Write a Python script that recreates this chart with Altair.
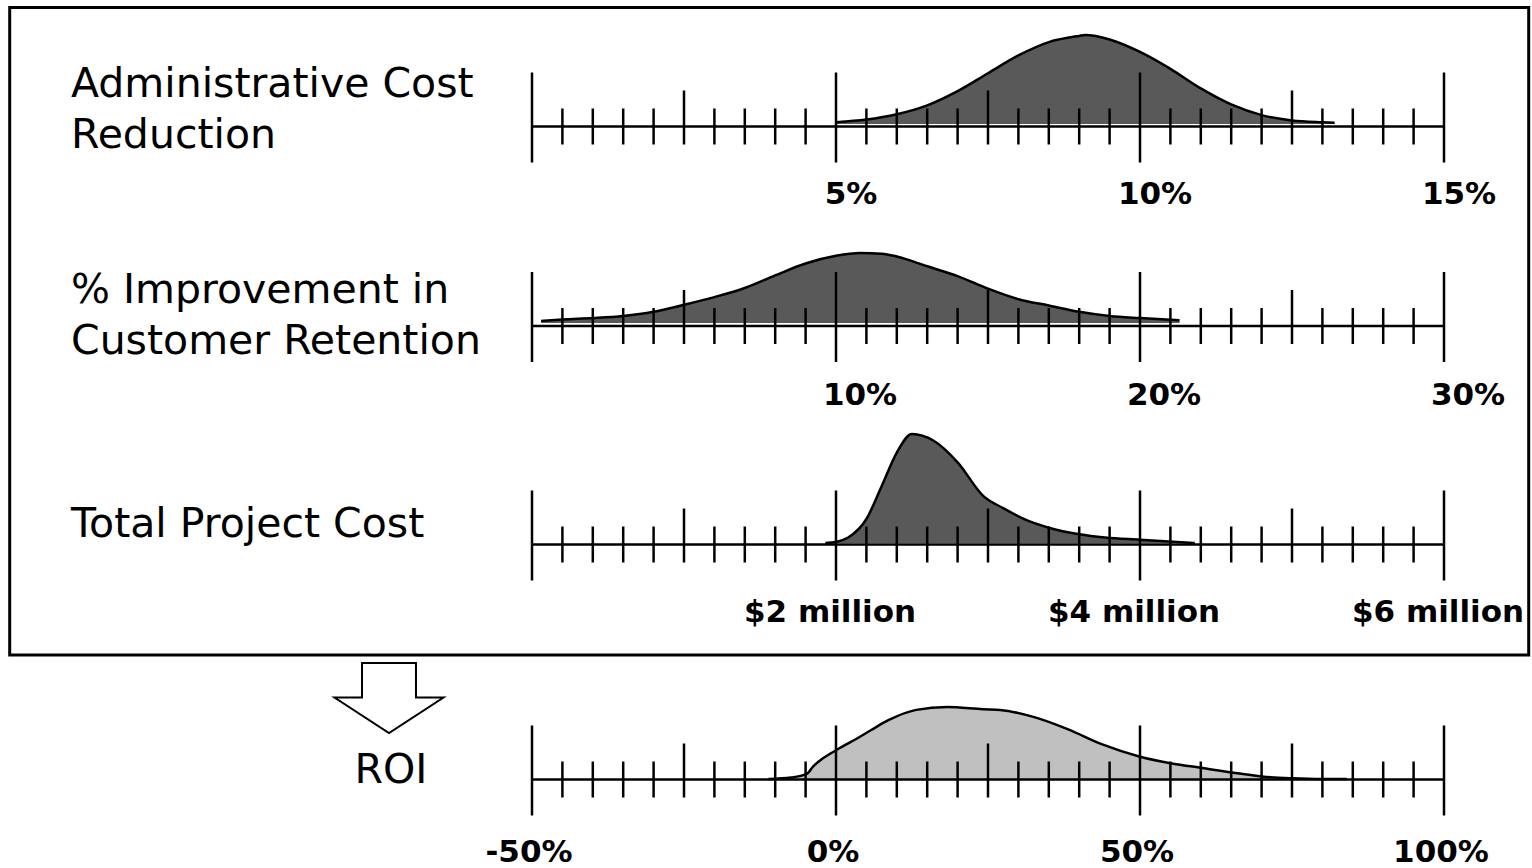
import altair as alt
import numpy as np
import pandas as pd

# ---------------------------------------------------------------- data
# Each input is a relative density curve (peak = 1) over its own units.

# Administrative cost reduction, %
admin_x = [5.0, 5.5, 6.0, 6.5, 7.0, 7.5, 8.0, 8.5, 9.0, 9.1, 9.5, 10.0, 10.5,
           11.0, 11.5, 12.0, 12.5, 13.0, 13.2]
admin_d = [0.02, 0.05, 0.11, 0.21, 0.37, 0.57, 0.77, 0.92, 0.99, 1.00, 0.95,
           0.81, 0.62, 0.40, 0.22, 0.10, 0.04, 0.02, 0.015]

# Improvement in customer retention, %
ret_x = [0.3, 1, 2, 3, 4, 5, 6, 7, 8, 9, 10, 10.8, 11.5, 12, 13, 14, 15, 16,
         17, 18, 19, 20, 21.3]
ret_d = [0.03, 0.05, 0.07, 0.10, 0.16, 0.26, 0.37, 0.50, 0.68, 0.85, 0.96,
         1.00, 0.99, 0.95, 0.81, 0.67, 0.49, 0.34, 0.25, 0.16, 0.10, 0.07, 0.04]

# Total project cost, $ million
cost_x = [1.93, 2.0, 2.08, 2.2, 2.3, 2.4, 2.5, 2.64, 2.8, 2.97, 3.1, 3.27,
          3.4, 3.6, 3.77, 4.0, 4.36]
cost_d = [0.0, 0.01, 0.05, 0.22, 0.52, 0.83, 1.00, 0.94, 0.74, 0.43, 0.32,
          0.20, 0.14, 0.08, 0.05, 0.03, 0.0]

# Resulting ROI, %
roi_x = [-11.1, -7.4, -4.8, -3.8, 0, 3.6, 5.8, 8.7, 13.2, 18.3, 24.2, 27,
         32.6, 38.2, 43.8, 50, 55, 60.5, 66, 70, 75, 80, 84]
roi_d = [0.0, 0.02, 0.07, 0.17, 0.40, 0.57, 0.68, 0.82, 0.96, 1.00, 0.97,
         0.96, 0.86, 0.69, 0.48, 0.31, 0.22, 0.15, 0.08, 0.035, 0.01, 0.0, 0.0]

# Axis ranges, tick structure and tick labels
admin_axis = dict(lo=0, hi=15, step=0.5, mid=[2.5, 7.5, 12.5], major=[0, 5, 10, 15])
admin_labels_at = [5, 10, 15]
admin_labels = ["5%", "10%", "15%"]

ret_axis = dict(lo=0, hi=30, step=1, mid=[5, 15, 25], major=[0, 10, 20, 30])
ret_labels_at = [10, 20, 30]
ret_labels = ["10%", "20%", "30%"]

cost_axis = dict(lo=0, hi=6, step=0.2, mid=[1, 3, 5], major=[0, 2, 4, 6])
cost_labels_at = [2, 4, 6]
cost_labels = ["$2 million", "$4 million", "$6 million"]

roi_axis = dict(lo=-50, hi=100, step=5, mid=[-25, 25, 75], major=[-50, 0, 50, 100])
roi_labels_at = [-50, 0, 50, 100]
roi_labels = ["-50%", "0%", "50%", "100%"]

titles = ["Administrative Cost\nReduction", "% Improvement in\nCustomer Retention",
          "Total Project Cost", "ROI"]

# ---------------------------------------------------------------- layout
W, H = 1532, 868
LINE_X0, LINE_X1 = 532, 1444
DARK, LIGHT = "#595959", "#c0c0c0"
TICK = {"major": (54, 36), "mid": (36, 18), "minor": (18, 18)}  # (up, down) px

rows = [
    dict(x=admin_x, d=admin_d, ax=admin_axis, at=admin_labels_at, lab=admin_labels,
         axis_y=126.5, zero=124, peak=35, fill=DARK, dx=15, label_y=204),
    dict(x=ret_x, d=ret_d, ax=ret_axis, at=ret_labels_at, lab=ret_labels,
         axis_y=326, zero=323, peak=253, fill=DARK, dx=24, label_y=405),
    dict(x=cost_x, d=cost_d, ax=cost_axis, at=cost_labels_at, lab=cost_labels,
         axis_y=544.5, zero=543, peak=434, fill=DARK, dx=-6, label_y=622),
    dict(x=roi_x, d=roi_d, ax=roi_axis, at=roi_labels_at, lab=roi_labels,
         axis_y=779.5, zero=779, peak=707, fill=LIGHT, dx=-3, label_y=862),
]


def tick_table(ax):
    vals = np.round(np.arange(ax["lo"], ax["hi"] + ax["step"] / 2, ax["step"]), 6)
    kinds = []
    for v in vals:
        if any(abs(v - m) < 1e-6 for m in ax["major"]):
            kinds.append("major")
        elif any(abs(v - m) < 1e-6 for m in ax["mid"]):
            kinds.append("mid")
        else:
            kinds.append("minor")
    return pd.DataFrame({"v": vals, "kind": kinds})


def number_line(r):
    ax = r["ax"]
    X = alt.X("v:Q", scale=alt.Scale(domain=[ax["lo"], ax["hi"]],
                                     range=[LINE_X0, LINE_X1]), axis=None)

    curve = alt.Chart(pd.DataFrame({"v": r["x"], "d": r["d"]})).mark_area(
        color=r["fill"], opacity=1, interpolate="monotone",
        line={"color": "black", "strokeWidth": 2.5},
    ).encode(
        x=X,
        y=alt.Y("d:Q", scale=alt.Scale(domain=[0, 1], range=[r["zero"], r["peak"]]),
                axis=None),
    )

    baseline = alt.Chart(pd.DataFrame({"v": [ax["lo"]], "v2": [ax["hi"]]})).mark_rule(
        color="black", strokeWidth=2.5
    ).encode(x=X, x2="v2:Q", y=alt.value(r["axis_y"]))

    ticks = tick_table(ax)
    tick_layers = []
    for kind, (up, down) in TICK.items():
        tick_layers.append(
            alt.Chart(ticks).transform_filter(alt.datum.kind == kind)
            .mark_rule(color="black", strokeWidth=2.5)
            .encode(x=X, y=alt.value(r["axis_y"] - up), y2=alt.value(r["axis_y"] + down))
        )

    labels = alt.Chart(pd.DataFrame({"v": r["at"], "t": r["lab"]})).mark_text(
        font="DejaVu Sans", fontWeight="bold", fontSize=31, color="black",
        align="center", baseline="alphabetic", dx=r["dx"],
    ).encode(x=X, y=alt.value(r["label_y"]), text="t:N")

    return alt.layer(curve, baseline, *tick_layers, labels)


one = pd.DataFrame({"k": [0]})

# Titles on the left of each number line
title_pos = [(71, 97, "left"), (71, 303, "left"), (71, 537, "left"), (391, 783, "center")]
title_layers = []
for text, (tx, ty, al) in zip(titles, title_pos):
    title_layers.append(
        alt.Chart(pd.DataFrame({"t": [text]})).mark_text(
            font="DejaVu Sans", fontSize=41, color="black", align=al,
            baseline="alphabetic", lineBreak="\n", lineHeight=51,
        ).encode(x=alt.value(tx), y=alt.value(ty), text="t:N")
    )

# Frame around the three inputs
frame = alt.Chart(one).mark_rect(
    fill="transparent", stroke="black", strokeWidth=3
).encode(x=alt.value(9.7), x2=alt.value(1528.7), y=alt.value(7.5), y2=alt.value(655))

# Hollow down arrow leading to the ROI result
ARROW = ("M -0.495 -0.651 L 0.495 -0.651 L 0.495 -0.018 L 1 -0.018 "
         "L 0 0.633 L -1 -0.018 L -0.495 -0.018 Z")
arrow = alt.Chart(one).mark_point(
    shape=ARROW, size=109 * 109, filled=True, fill="white", stroke="black",
    strokeWidth=2, opacity=1,
).encode(x=alt.value(389), y=alt.value(698.5))

chart = alt.layer(
    *[number_line(r) for r in rows], frame, arrow, *title_layers
).resolve_scale(
    x="independent", y="independent"
).properties(
    width=W, height=H, autosize=alt.AutoSizeParams(type="none"), padding=0,
    background="white",
).configure_view(stroke=None)

chart.save("out.html", embed_options={"renderer": "svg", "actions": False})
